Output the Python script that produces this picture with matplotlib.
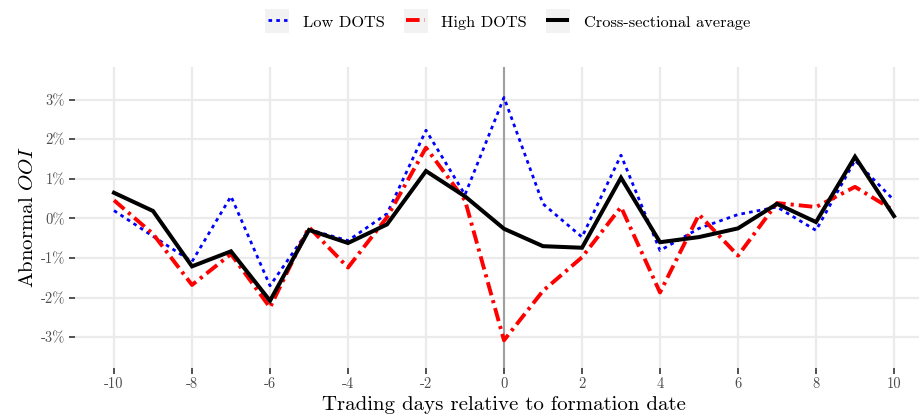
import matplotlib
matplotlib.use("Agg")
import matplotlib.pyplot as plt
from matplotlib.patches import Rectangle

plt.rcParams['font.family'] = ['cmr10', 'DejaVu Serif']
plt.rcParams['mathtext.fontset'] = 'cm'
plt.rcParams['axes.formatter.use_mathtext'] = True

days = list(range(-10, 11))
low_dots = [0.20, -0.45, -1.09, 0.56, -1.70, -0.28, -0.56, 0.12, 2.23, 0.60, 3.06,
            0.37, -0.47, 1.60, -0.81, -0.25, 0.10, 0.29, -0.30, 1.47, 0.46]
high_dots = [0.46, -0.39, -1.68, -0.90, -2.25, -0.22, -1.24, 0.03, 1.79, 0.46, -3.08,
             -1.83, -0.98, 0.29, -1.87, 0.10, -0.94, 0.39, 0.29, 0.80, 0.20]
avg = [0.65, 0.19, -1.21, -0.83, -2.08, -0.29, -0.62, -0.15, 1.20, 0.56, -0.26,
       -0.70, -0.74, 1.03, -0.60, -0.47, -0.25, 0.37, -0.09, 1.56, 0.06]
xticks = list(range(-10, 11, 2))
yticks = [-3, -2, -1, 0, 1, 2, 3]
ytick_labels = ['-3%', '-2%', '-1%', '0%', '1%', '2%', '3%']

W, H = 920, 417
fig = plt.figure(figsize=(W / 100, H / 100), dpi=100)
left, right, top, bottom = 75, 933, 67, 368
ax = fig.add_axes([left / W, 1 - bottom / H, (right - left) / W, (bottom - top) / H])

ax.set_xlim(-11, 11)
ax.set_ylim(-3.78, 3.83)

grid_c = '#EBEBEB'
for x in xticks:
    ax.axvline(x, color=grid_c, lw=1.6, zorder=0)
for y in yticks:
    ax.axhline(y, color=grid_c, lw=1.6, zorder=0)
ax.axvline(0, color='#A0A0A0', lw=1.5, zorder=1)

ax.plot(days, low_dots, color='blue', lw=2.0, linestyle=(0, (1.3, 1.5)), zorder=2,
        label='Low DOTS')
ax.plot(days, high_dots, color='red', lw=2.8, linestyle=(0, (3.5, 1.3, 0.8, 1.3)), zorder=3,
        label='High DOTS')
ax.plot(days, avg, color='black', lw=2.9, solid_joinstyle='miter', zorder=4,
        label='Cross-sectional average')

for s in ax.spines.values():
    s.set_visible(False)
ax.set_xticks(xticks)
ax.set_xticklabels([str(x) for x in xticks])
ax.set_yticks(yticks)
ax.set_yticklabels(ytick_labels)
ax.tick_params(axis='both', colors='#333333', labelcolor='#4D4D4D', labelsize=10.5,
               length=4, width=1.2, pad=3)
ax.set_xlabel('Trading days relative to formation date', fontsize=15, labelpad=3)
ax.set_ylabel('Abnormal $OOI$', fontsize=15, labelpad=3)

leg = fig.legend(loc='center', bbox_to_anchor=(509 / W, 1 - 22 / H), ncol=3, frameon=False,
                 fontsize=11.8, handlelength=1.15, handleheight=1.2, columnspacing=1.3,
                 handletextpad=1.0)
fig.canvas.draw()
renderer = fig.canvas.get_renderer()
for h in leg.legend_handles:
    bb = h.get_window_extent(renderer)
    cx = (bb.x0 + bb.x1) / 2
    cy = (bb.y0 + bb.y1) / 2
    s = 24
    r = Rectangle(((cx - s / 2) / W, (cy - s / 2) / H), s / W, s / H,
                  transform=fig.transFigure, facecolor='#F2F2F2', edgecolor='none', zorder=-1)
    fig.patches.append(r)

fig.savefig('out.png', dpi=100)
